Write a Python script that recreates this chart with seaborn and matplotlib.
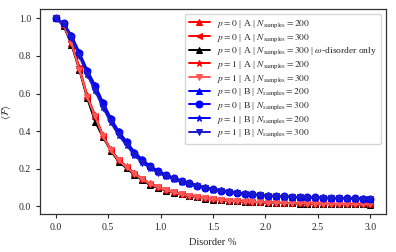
import numpy as np
import pandas as pd
import matplotlib
matplotlib.use("Agg")
import matplotlib.pyplot as plt
import seaborn as sns

# disorder levels (41 points, 0 to 3 %)
disorder = np.linspace(0, 3, 41)

# fidelity curves, topology A
a_p0_n200 = [1.0, 0.965, 0.87, 0.73, 0.585, 0.48, 0.375, 0.30, 0.245, 0.21, 0.175,
             0.145, 0.12, 0.10, 0.086, 0.074, 0.064, 0.056, 0.048, 0.042, 0.037,
             0.033, 0.030, 0.028, 0.026, 0.024, 0.022, 0.020, 0.019, 0.018, 0.017,
             0.016, 0.015, 0.014, 0.013, 0.012, 0.012, 0.011, 0.011, 0.010, 0.010]
a_p0_n300 = [1.0, 0.962, 0.872, 0.735, 0.58, 0.475, 0.372, 0.302, 0.247, 0.208, 0.173,
             0.144, 0.121, 0.102, 0.087, 0.075, 0.065, 0.056, 0.049, 0.043, 0.038,
             0.034, 0.031, 0.028, 0.026, 0.024, 0.022, 0.021, 0.019, 0.018, 0.017,
             0.016, 0.015, 0.014, 0.013, 0.013, 0.012, 0.011, 0.011, 0.010, 0.010]
a_p0_n300_omega = [1.0, 0.96, 0.86, 0.725, 0.575, 0.45, 0.368, 0.295, 0.237, 0.203, 0.166,
                   0.14, 0.113, 0.098, 0.084, 0.073, 0.063, 0.055, 0.047, 0.041, 0.036,
                   0.032, 0.029, 0.027, 0.025, 0.023, 0.021, 0.020, 0.018, 0.017, 0.016,
                   0.015, 0.014, 0.013, 0.013, 0.012, 0.011, 0.011, 0.010, 0.010, 0.009]
a_p1_n200 = [1.0, 0.966, 0.875, 0.74, 0.59, 0.485, 0.378, 0.303, 0.248, 0.212, 0.176,
             0.147, 0.122, 0.103, 0.088, 0.075, 0.065, 0.057, 0.049, 0.043, 0.038,
             0.034, 0.031, 0.029, 0.027, 0.025, 0.023, 0.021, 0.020, 0.019, 0.018,
             0.017, 0.016, 0.015, 0.014, 0.013, 0.012, 0.012, 0.011, 0.011, 0.010]
a_p1_n300 = [1.0, 0.964, 0.868, 0.728, 0.583, 0.478, 0.373, 0.298, 0.244, 0.207, 0.172,
             0.143, 0.119, 0.101, 0.086, 0.074, 0.064, 0.056, 0.048, 0.042, 0.037,
             0.033, 0.030, 0.027, 0.025, 0.023, 0.022, 0.020, 0.019, 0.018, 0.017,
             0.016, 0.015, 0.014, 0.013, 0.012, 0.012, 0.011, 0.010, 0.010, 0.010]

# fidelity curves, topology B
b_p0_n200 = [1.0, 0.975, 0.91, 0.82, 0.725, 0.645, 0.555, 0.47, 0.40, 0.345, 0.29,
             0.25, 0.215, 0.19, 0.169, 0.152, 0.137, 0.124, 0.112, 0.102, 0.093,
             0.086, 0.080, 0.074, 0.069, 0.065, 0.061, 0.058, 0.056, 0.054, 0.052,
             0.050, 0.049, 0.048, 0.047, 0.046, 0.045, 0.044, 0.043, 0.042, 0.041]
b_p0_n300 = [1.0, 0.974, 0.905, 0.815, 0.72, 0.64, 0.55, 0.465, 0.395, 0.34, 0.285,
             0.245, 0.212, 0.187, 0.167, 0.150, 0.135, 0.122, 0.110, 0.100, 0.091,
             0.084, 0.078, 0.073, 0.068, 0.064, 0.060, 0.057, 0.055, 0.053, 0.051,
             0.049, 0.048, 0.047, 0.046, 0.045, 0.044, 0.043, 0.042, 0.041, 0.040]
b_p1_n200 = [1.0, 0.973, 0.9, 0.805, 0.705, 0.62, 0.53, 0.45, 0.38, 0.328, 0.275,
             0.235, 0.205, 0.18, 0.161, 0.145, 0.131, 0.118, 0.107, 0.097, 0.089,
             0.082, 0.076, 0.071, 0.066, 0.062, 0.059, 0.056, 0.054, 0.052, 0.050,
             0.048, 0.047, 0.046, 0.045, 0.044, 0.043, 0.042, 0.041, 0.040, 0.039]
b_p1_n300 = [1.0, 0.972, 0.898, 0.80, 0.70, 0.615, 0.525, 0.447, 0.378, 0.325, 0.272,
             0.233, 0.203, 0.178, 0.159, 0.143, 0.129, 0.117, 0.106, 0.096, 0.088,
             0.081, 0.075, 0.070, 0.065, 0.061, 0.058, 0.055, 0.053, 0.051, 0.049,
             0.047, 0.046, 0.045, 0.044, 0.043, 0.042, 0.041, 0.040, 0.039, 0.038]

labels = [
    r"$p=0$ | A | $N_{\mathrm{samples}}=200$",
    r"$p=0$ | A | $N_{\mathrm{samples}}=300$",
    r"$p=0$ | A | $N_{\mathrm{samples}}=300$ | $\omega$-disorder only",
    r"$p=1$ | A | $N_{\mathrm{samples}}=200$",
    r"$p=1$ | A | $N_{\mathrm{samples}}=300$",
    r"$p=0$ | B | $N_{\mathrm{samples}}=200$",
    r"$p=0$ | B | $N_{\mathrm{samples}}=300$",
    r"$p=1$ | B | $N_{\mathrm{samples}}=200$",
    r"$p=1$ | B | $N_{\mathrm{samples}}=300$",
]
series = [a_p0_n200, a_p0_n300, a_p0_n300_omega, a_p1_n200, a_p1_n300,
          b_p0_n200, b_p0_n300, b_p1_n200, b_p1_n300]
colors = ["red", "red", "black", "red", "#ff5555",
          "blue", "blue", "blue", "#1a1acc"]
markers = ["^", "<", "^", "*", "v", "^", "o", "*", "v"]

sns.set_style("ticks")
plt.rcParams["font.family"] = ["Liberation Serif", "DejaVu Serif"]
plt.rcParams["mathtext.fontset"] = "stix"
plt.rcParams["font.size"] = 7

fig, ax = plt.subplots(figsize=(3.96, 2.52), dpi=100)
for vals, lab, c, m in zip(series, labels, colors, markers):
    df = pd.DataFrame({"x": disorder, "y": vals})
    sns.lineplot(data=df, x="x", y="y", ax=ax, color=c, marker=m, markersize=5,
                 markeredgecolor=c, linewidth=1.4, label=lab)

for s in ax.spines.values():
    s.set_visible(True)
    s.set_color("#333333")
    s.set_linewidth(0.9)
ax.set_xlabel("Disorder %", fontsize=7.5)
ax.set_ylabel(r"$\langle \mathcal{F} \rangle$", fontsize=7.5)
ax.set_xticks([0, 0.5, 1.0, 1.5, 2.0, 2.5, 3.0])
ax.set_yticks([0, 0.2, 0.4, 0.6, 0.8, 1.0])
ax.tick_params(labelsize=7, length=3, width=0.8)
ax.legend(loc="upper right", fontsize=6.8, handlelength=2.2, labelspacing=0.2,
          borderpad=0.45, framealpha=0.8)

fig.subplots_adjust(left=0.101, right=0.975, top=0.964, bottom=0.151)
fig.savefig("out.png", dpi=100)
